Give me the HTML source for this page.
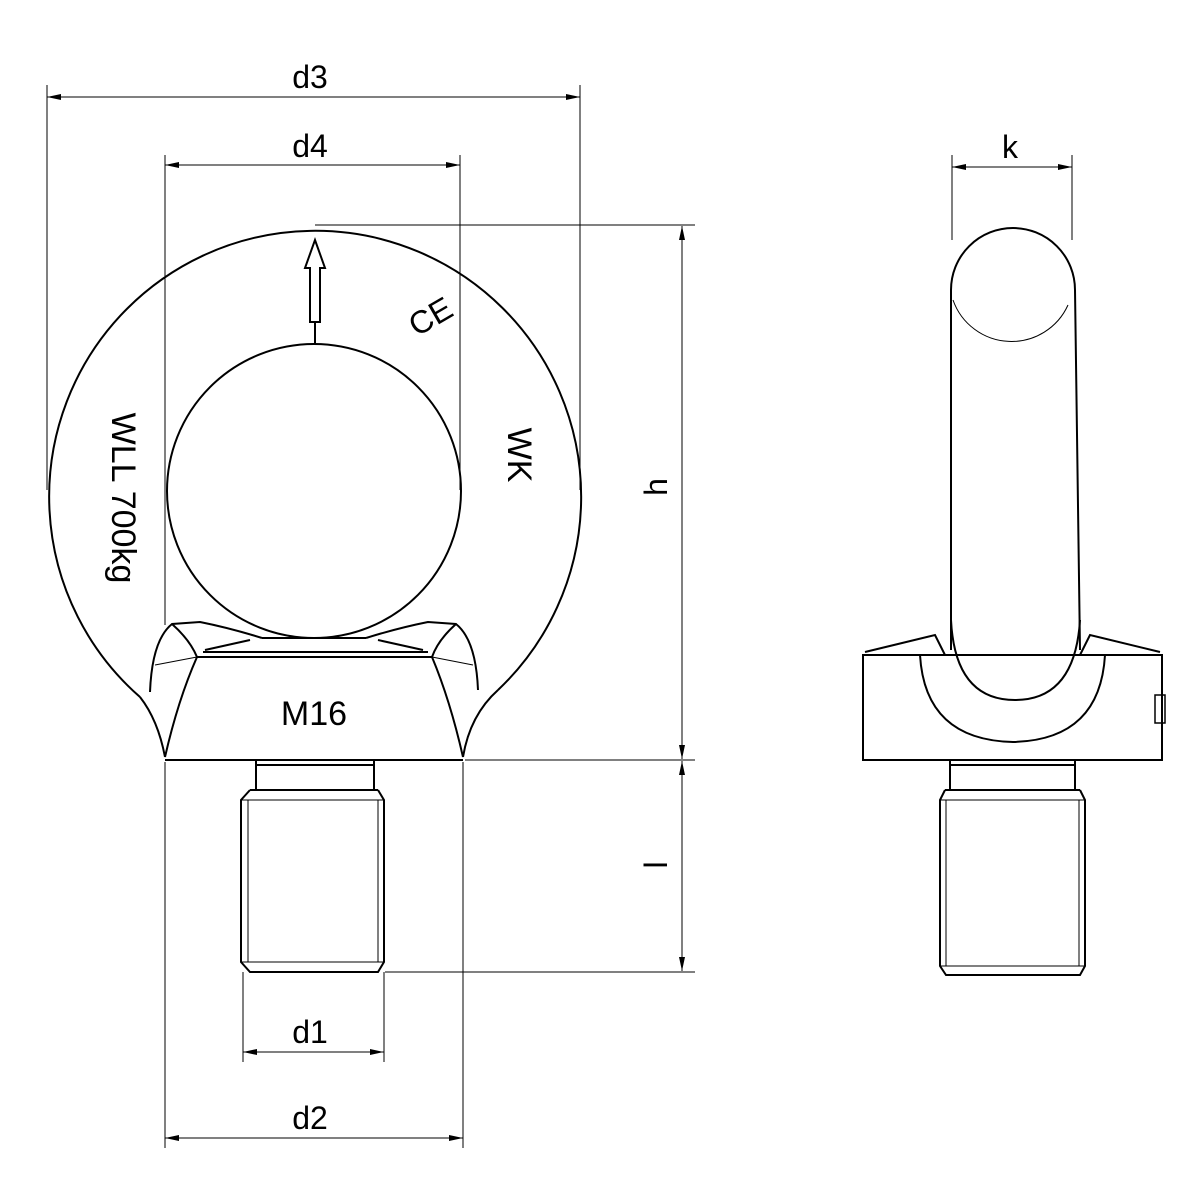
<!DOCTYPE html>
<html><head><style>body{margin:0;background:#fff}svg{display:block}</style></head><body>
<svg width="1200" height="1200" viewBox="0 0 1200 1200" xmlns="http://www.w3.org/2000/svg">
<defs><marker id="a" markerWidth="14" markerHeight="8" refX="14" refY="4" orient="auto-start-reverse" markerUnits="userSpaceOnUse"><path d="M0,1 L14,4 L0,7 Z" fill="#000"/></marker></defs>
<g fill="none" stroke="#000" stroke-width="1">
<line x1="47" y1="85" x2="47" y2="490"/><line x1="580" y1="85" x2="580" y2="490"/>
<line x1="165" y1="155" x2="165" y2="625"/><line x1="460" y1="155" x2="460" y2="490"/>
<line x1="315" y1="225" x2="695" y2="225"/><line x1="465" y1="760" x2="695" y2="760"/><line x1="385" y1="972" x2="695" y2="972"/>
<line x1="243" y1="972" x2="243" y2="1062"/><line x1="384" y1="972" x2="384" y2="1062"/>
<line x1="165" y1="762" x2="165" y2="1148"/><line x1="463" y1="762" x2="463" y2="1148"/>
<line x1="952" y1="155" x2="952" y2="240"/><line x1="1072" y1="155" x2="1072" y2="240"/>
<line x1="47" y1="97" x2="580" y2="97" marker-start="url(#a)" marker-end="url(#a)"/>
<line x1="165" y1="165" x2="460" y2="165" marker-start="url(#a)" marker-end="url(#a)"/>
<line x1="682" y1="226" x2="682" y2="759" marker-start="url(#a)" marker-end="url(#a)"/>
<line x1="682" y1="761" x2="682" y2="971" marker-start="url(#a)" marker-end="url(#a)"/>
<line x1="243" y1="1052" x2="384" y2="1052" marker-start="url(#a)" marker-end="url(#a)"/>
<line x1="165" y1="1138" x2="463" y2="1138" marker-start="url(#a)" marker-end="url(#a)"/>
<line x1="952" y1="167" x2="1072" y2="167" marker-start="url(#a)" marker-end="url(#a)"/>
</g>
<g fill="none" stroke="#000" stroke-width="2">
<path d="M140,697 A266,266 0 1 1 498,690"/>
<path d="M140,697 Q158,720 165,757"/><path d="M498,690 Q470,715 463,757"/>
<circle cx="314" cy="491" r="147"/>
<line x1="315" y1="344" x2="315" y2="322"/>
<path d="M165,760 L463,760"/>
<path d="M197,657 Q178,700 165,757"/><path d="M432,657 Q450,700 463,757"/>
<path d="M197,657 L432,657"/><path d="M203,652 L428,652"/>
<path d="M150,692 Q152,640 172,624 L200,622 Q230,628 262,638"/>
<path d="M478,690 Q476,640 456,624 L428,622 Q398,628 366,638"/>
<path d="M172,624 Q190,640 197,657"/><path d="M456,624 Q438,640 432,657"/>
<path d="M155,665 L197,657 M473,665 L432,657" stroke-width="1"/>
<path d="M205,650 L250,640"/><path d="M423,650 L378,640"/>
<path d="M262,638 L366,638"/>
<path d="M256,760 L256,790 M374,760 L374,790 M256,765 L374,765 M250,790 L378,790"/>
<path d="M250,790 L241,800 L241,962 L250,972 L378,972 L384,962 L384,800 L378,790"/>
<path d="M248,800 L248,962 M378,800 L378,962 M241,800 L384,800 M241,962 L384,962" stroke-width="1"/>
<path d="M315,240 L325,268 L320,268 L320,322 L310,322 L310,268 L305,268 Z"/>
<path d="M951,650 L951,290 A62,62 0 0 1 1075,290 L1080,650"/>
<path d="M953,300 A62,62 0 0 0 1068,305" stroke-width="1"/>
<path d="M951,600 L951,620 Q955,700 1015,700 Q1075,700 1080,620"/>
<path d="M863,655 L1162,655 L1162,760 L863,760 Z"/>
<path d="M920,655 Q925,740 1013,742 Q1100,740 1105,655"/>
<path d="M865,652 L935,635 L945,655 M1160,652 L1090,635 L1080,655"/>
<rect x="1155" y="695" width="10" height="28" stroke-width="1.5"/>
<path d="M950,760 L950,790 M1075,760 L1075,790 M950,765 L1075,765 M945,790 L1080,790"/>
<path d="M945,790 L940,800 L940,966 L946,975 L1080,975 L1085,966 L1085,800 L1080,790"/>
<path d="M946,800 L946,966 M1079,800 L1079,966 M940,800 L1085,800 M940,966 L1085,966" stroke-width="1"/>
</g>
<g font-family="Liberation Sans, sans-serif" font-size="32" fill="#000">
<text x="310" y="88" text-anchor="middle">d3</text>
<text x="310" y="157" text-anchor="middle">d4</text>
<text x="1010" y="158" text-anchor="middle">k</text>
<text x="310" y="1043" text-anchor="middle">d1</text>
<text x="310" y="1129" text-anchor="middle">d2</text>
<text transform="translate(667,487) rotate(-90)" text-anchor="middle">h</text>
<text transform="translate(667,865) rotate(-90)" text-anchor="middle">l</text>
<text x="314" y="725" text-anchor="middle" font-size="34">M16</text>
<text transform="translate(112,498) rotate(90)" text-anchor="middle" font-size="34">WLL 700kg</text>
<text transform="translate(508,455) rotate(90)" text-anchor="middle" font-size="34">WK</text>
<text transform="translate(436,326) rotate(-30)" text-anchor="middle" font-size="32">CE</text>
</g>
</svg>
</body></html>
